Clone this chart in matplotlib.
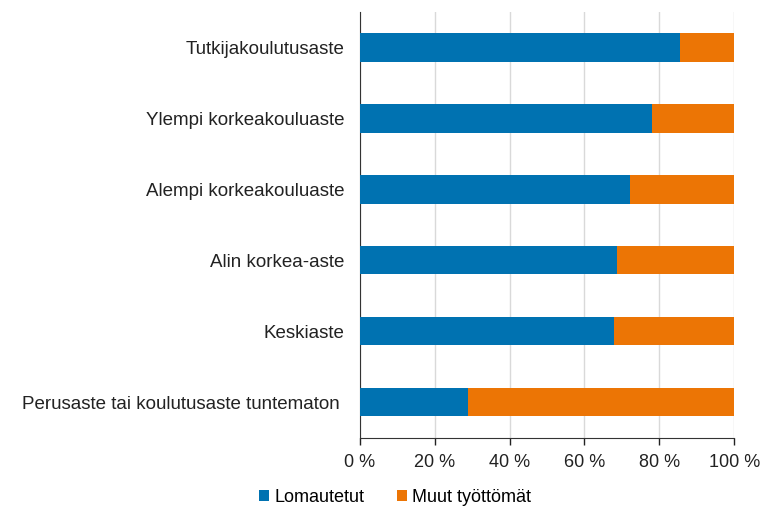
import matplotlib
matplotlib.use('Agg')
import matplotlib.pyplot as plt
from matplotlib.ticker import FuncFormatter

plt.rcParams['font.family'] = ['Liberation Sans', 'DejaVu Sans']

# Koulutusaste ja osuudet (%)
categories = ['Tutkijakoulutusaste', 'Ylempi korkeakouluaste', 'Alempi korkeakouluaste',
              'Alin korkea-aste', 'Keskiaste', 'Perusaste tai koulutusaste tuntematon ']
lomautetut = [85.4, 78.1, 72.1, 68.7, 67.8, 28.8]
muut = [100 - v for v in lomautetut]

blue = '#0072b1'
orange = '#ec7505'

fig = plt.figure(figsize=(7.64, 5.18), dpi=100)
ax = fig.add_axes([0.471, 0.155, 0.49, 0.822])

y = list(range(len(categories)))
ax.barh(y, lomautetut, height=0.4, color=blue, label='Lomautetut', zorder=3)
ax.barh(y, muut, left=lomautetut, height=0.4, color=orange, label='Muut työttömät', zorder=3)

ax.set_ylim(len(categories) - 0.5, -0.5)
ax.set_yticks(y)
ax.set_yticklabels(categories, fontsize=13.5, color='#222222')
ax.set_xlim(0, 100)
ax.set_xticks(range(0, 101, 20))
ax.xaxis.set_major_formatter(FuncFormatter(lambda v, p: f'{int(v)} %'))
ax.tick_params(axis='x', labelsize=13, colors='#222222', length=5, width=1, pad=7)
ax.tick_params(axis='y', length=0, pad=11)
ax.grid(axis='x', color='#d9d9d9', linewidth=1, zorder=0)

for s in ['top', 'right']:
    ax.spines[s].set_visible(False)
ax.spines['left'].set_color('#333333')
ax.spines['bottom'].set_color('#333333')

fig.legend(loc='center', bbox_to_anchor=(0.517, 0.039), ncol=2, frameon=False,
           fontsize=13, handlelength=0.55, handleheight=0.55, handletextpad=0.3,
           columnspacing=1.8)

fig.savefig('out.png', dpi=100)
